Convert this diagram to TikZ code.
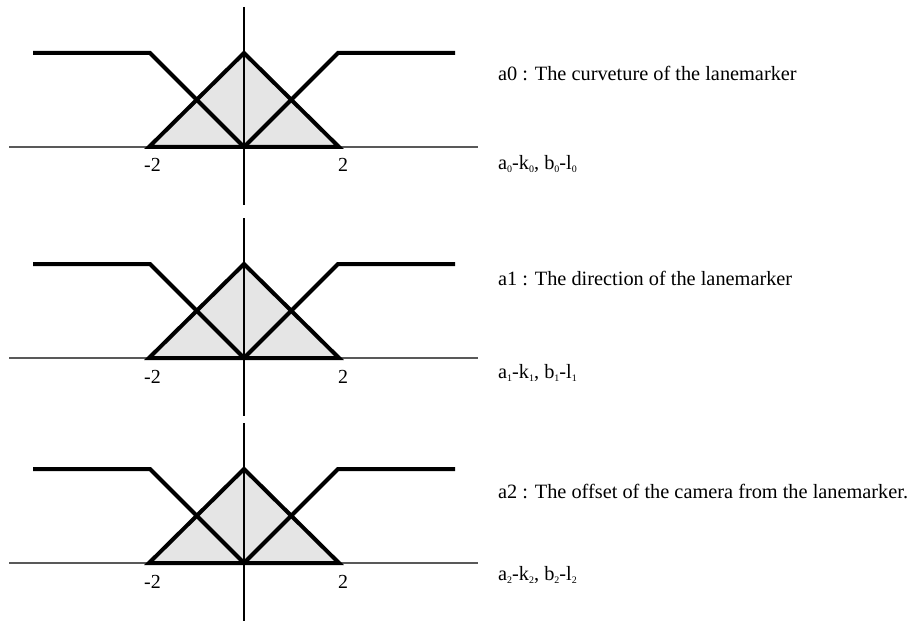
\documentclass[tikz,border=0pt]{standalone}
\usepackage{fontspec}
\setmainfont{Liberation Serif}
\newcommand{\sbx}[1]{\raisebox{-3bp}{\fontsize{10}{10}\selectfont #1}}
\tikzset{
  mf/.style={line width=4bp, line join=miter, line cap=butt},
  xaxis/.style={draw=black!65, line width=1.3bp},
  yaxis/.style={draw=black, line width=2bp},
  lbl/.style={anchor=base west, inner sep=0pt, font=\fontsize{20.4}{24}\selectfont},
  num/.style={anchor=base west, inner sep=0pt, font=\fontsize{20}{22}\selectfont}
}
\begin{document}
\begin{tikzpicture}[x=1bp,y=-1bp]
\useasboundingbox (0,0) rectangle (919,622);
\foreach \o/\i in {0/0,211/1,416/2}{
  \begin{scope}[yshift=-\o bp]
    \coordinate (L\i) at (149,147);
    \coordinate (P\i) at (244,53);
    \coordinate (R\i) at (339,147);
    \coordinate (O\i) at (244,147);
    \fill[black!10] (L\i) -- (P\i) -- (R\i) -- cycle;
    \draw[xaxis] (9,147) -- (478,147);
    \draw[mf] (L\i) -- (P\i) -- (R\i) -- cycle;
    \draw[mf] (33,53) -- (150,53) -- (O\i);
    \draw[mf] (455,53) -- (338,53) -- (O\i);
    \draw[yaxis] (244,7) -- (244,205);
    \node[num] (m\i) at (144,172) {-2};
    \node[num] (p\i) at (338,172) {2};
  \end{scope}
}
\node[lbl] (t0) at (498,80.5) {a0 : The curveture of the lanemarker};
\node[lbl] (s0) at (498,170) {a\sbx{0}-k\sbx{0}, b\sbx{0}-l\sbx{0}};
\node[lbl] (t1) at (498,285) {a1 : The direction of the lanemarker};
\node[lbl] (s1) at (498,378) {a\sbx{1}-k\sbx{1}, b\sbx{1}-l\sbx{1}};
\node[lbl] (t2) at (498,498) {a2 : The offset of the camera from the lanemarker.};
\node[lbl] (s2) at (498,580) {a\sbx{2}-k\sbx{2}, b\sbx{2}-l\sbx{2}};
\end{tikzpicture}
\end{document}
